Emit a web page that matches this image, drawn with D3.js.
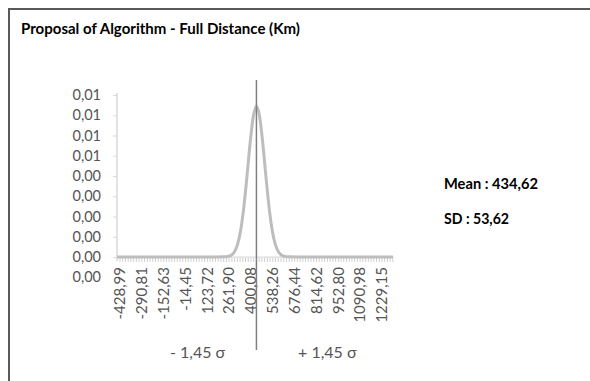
<!DOCTYPE html>
<html>
<head>
<meta charset="utf-8">
<script src="https://cdn.jsdelivr.net/npm/d3@7"></script>
<style>
  body { margin: 0; background: #fff; }
  text { font-family: Lato, "Open Sans", sans-serif; }
</style>
</head>
<body>
<div id="chart"></div>
<script>
// Data
const xLabels = [-428.99, -290.81, -152.63, -14.45, 123.72, 261.90, 400.08, 538.26, 676.44, 814.62, 952.80, 1090.98, 1229.15];
const yTicks = [-0.001, 0, 0.001, 0.002, 0.003, 0.004, 0.005, 0.006, 0.007, 0.008];
const curveX = [-448, 100, 234.62, 254.62, 274.62, 294.62, 314.62, 334.62, 354.62, 374.62, 394.62, 414.62, 434.62,
  454.62, 474.62, 494.62, 514.62, 534.62, 554.62, 574.62, 594.62, 614.62, 634.62, 770, 1299];
const curveY = [0, 0, 0.00001, 0.00003, 0.00009, 0.00025, 0.00061, 0.00131, 0.00245, 0.00398, 0.00563, 0.00694, 0.00744,
  0.00694, 0.00563, 0.00398, 0.00245, 0.00131, 0.00061, 0.00025, 0.00009, 0.00003, 0.00001, 0, 0];
const mean = 434.62;
const sd = 53.62;
const title = 'Proposal of Algorithm  - Full Distance (Km)';

const dataset = curveX.map((x, i) => ({ x, y: curveY[i] }));

const width = 590;
const height = 381;

const svg = d3.select('#chart')
  .append('svg')
  .attr('width', width)
  .attr('height', height);

// frame
svg.append('path')
  .attr('d', `M9,${height} L9,9 L${width},9`)
  .attr('fill', 'none')
  .attr('stroke', '#595959')
  .attr('stroke-width', 2);

svg.append('text')
  .attr('x', 21)
  .attr('y', 34)
  .attr('font-size', '16px')
  .attr('font-weight', 'bold')
  .attr('fill', '#000')
  .attr('textLength', 279)
  .attr('lengthAdjust', 'spacingAndGlyphs')
  .text(title);

// Scales
const xScale = d3.scaleLinear()
  .domain([-448, 1299])
  .range([117, 393]);

const yScale = d3.scaleLinear()
  .domain([0, 0.008])
  .range([257, 95]);

const fmt = d => d3.format('.2f')(Math.abs(d)).replace('.', ',');

// y axis
const yAxis = d3.axisLeft(yScale)
  .tickValues(yTicks)
  .tickSize(4)
  .tickPadding(12)
  .tickFormat(fmt);

const yG = svg.append('g')
  .attr('transform', 'translate(117,0)')
  .call(yAxis);
yG.select('.domain').remove();
yG.selectAll('.tick line')
  .attr('stroke', '#d9d9d9')
  .filter(d => d < 0).remove();
yG.selectAll('.tick text')
  .attr('fill', '#555')
  .attr('font-size', '14.5px');

svg.append('line')
  .attr('x1', 117).attr('x2', 117)
  .attr('y1', yScale(0.008) - 2).attr('y2', yScale(0) + 4)
  .attr('stroke', '#d9d9d9')
  .attr('stroke-width', 1.5);

// x axis: minor ticks + rotated labels
const minorTicks = d3.range(xLabels[0], 1299, (xLabels[1] - xLabels[0]) / 8);
svg.append('g')
  .selectAll('line')
  .data(minorTicks)
  .join('line')
  .attr('x1', d => xScale(d)).attr('x2', d => xScale(d))
  .attr('y1', yScale(0)).attr('y2', yScale(0) + 5)
  .attr('stroke', '#d0d0d0');

svg.append('line')
  .attr('x1', 117).attr('x2', 393)
  .attr('y1', yScale(0)).attr('y2', yScale(0))
  .attr('stroke', '#d9d9d9');

svg.append('g')
  .selectAll('text')
  .data(xLabels)
  .join('text')
  .attr('transform', d => `translate(${xScale(d)}, 267) rotate(-90)`)
  .attr('dy', '0.35em')
  .attr('text-anchor', 'end')
  .attr('font-size', '15px')
  .attr('fill', '#555')
  .text(d => (d < 0 ? '-' : '') + fmt(d));

// curve
const lineGenerator = d3.line()
  .x(d => xScale(d.x))
  .y(d => yScale(d.y))
  .curve(d3.curveMonotoneX);

svg.append('path')
  .datum(dataset)
  .attr('d', lineGenerator)
  .attr('fill', 'none')
  .attr('stroke', '#bdbdbd')
  .attr('stroke-width', 3);

// mean line
svg.append('line')
  .attr('x1', xScale(mean)).attr('x2', xScale(mean))
  .attr('y1', 80).attr('y2', 350)
  .attr('stroke', '#7f7f7f')
  .attr('stroke-width', 1.5);

// sigma labels
svg.append('text')
  .attr('x', 170).attr('y', 358)
  .attr('font-size', '16px')
  .attr('fill', '#555')
  .text('- 1,45 σ');

svg.append('text')
  .attr('x', 298).attr('y', 358)
  .attr('font-size', '16px')
  .attr('fill', '#555')
  .text('+ 1,45 σ');

// stats
svg.append('text')
  .attr('x', 444).attr('y', 189)
  .attr('font-size', '16px')
  .attr('font-weight', 'bold')
  .attr('fill', '#000')
  .attr('textLength', 94)
  .attr('lengthAdjust', 'spacingAndGlyphs')
  .text(`Mean : ${fmt(mean)}`);

svg.append('text')
  .attr('x', 444).attr('y', 224)
  .attr('font-size', '16px')
  .attr('font-weight', 'bold')
  .attr('fill', '#000')
  .attr('textLength', 65)
  .attr('lengthAdjust', 'spacingAndGlyphs')
  .text(`SD : ${fmt(sd)}`);
</script>
</body>
</html>
